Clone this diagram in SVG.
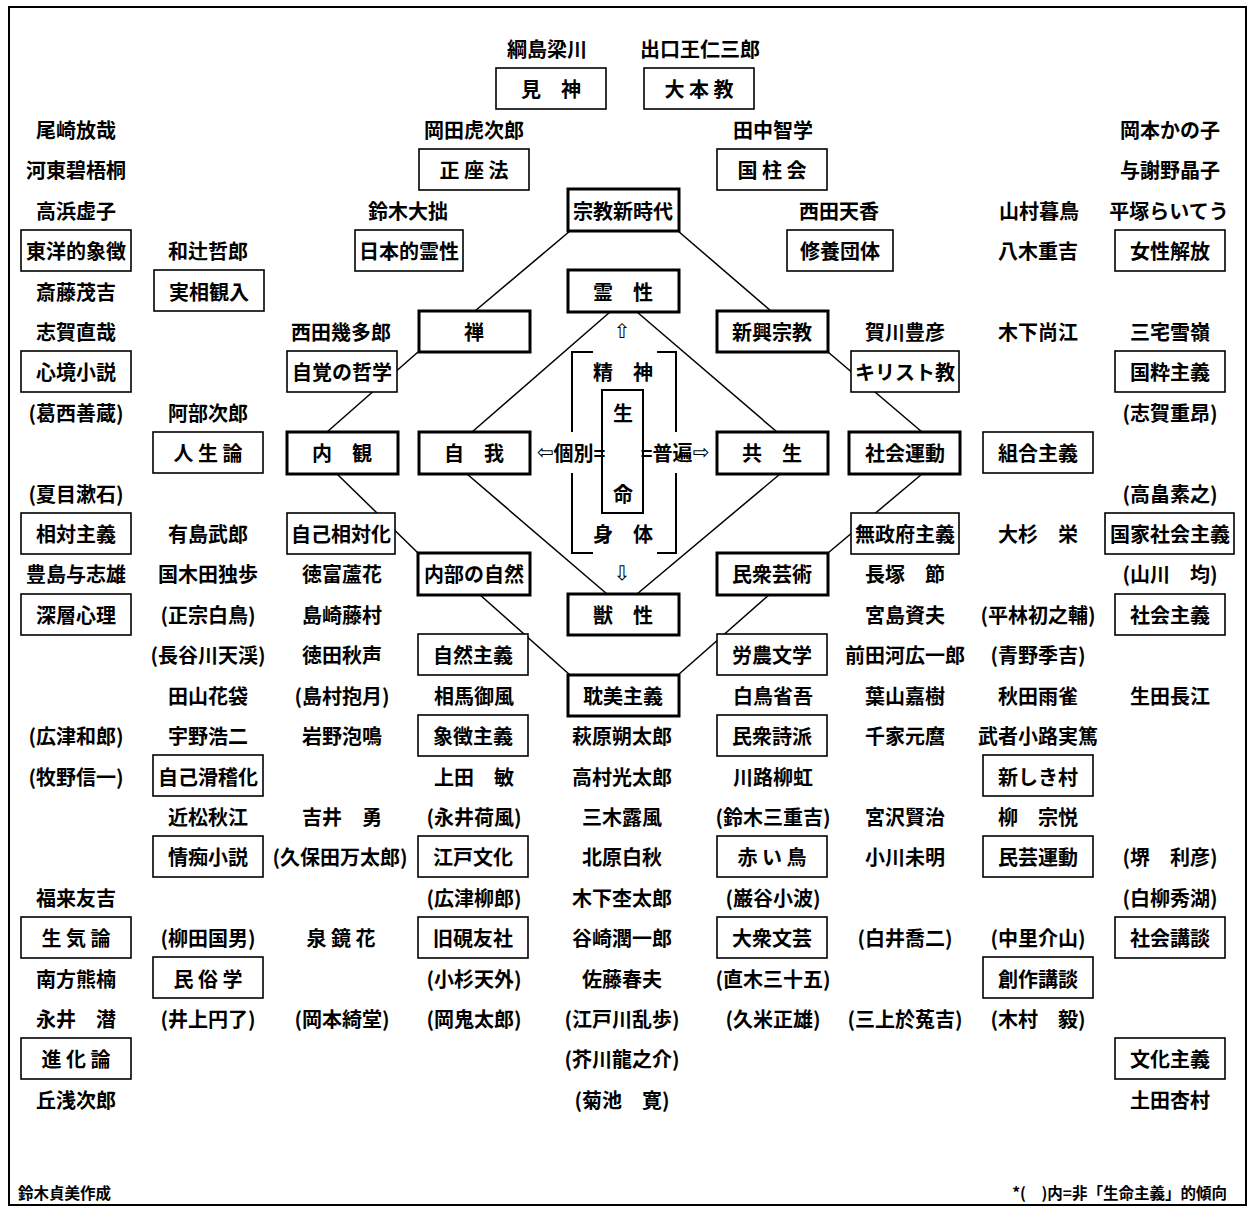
<svg xmlns="http://www.w3.org/2000/svg" width="1252" height="1207" viewBox="0 0 1252 1207">
<style>
text{font-family:"Noto Sans CJK JP","Noto Sans CJK SC","DejaVu Sans",sans-serif;font-size:20px;font-weight:700;fill:#000;text-anchor:middle;dominant-baseline:central}
.b{fill:#fff;stroke:#000;stroke-width:1.6}
.k{fill:#fff;stroke:#000;stroke-width:3}
.c{fill:none;stroke:#000;stroke-width:1.5}
.br{fill:none;stroke:#000;stroke-width:2}
.s{font-size:15.5px}
.ar{font-family:"DejaVu Sans",sans-serif;font-weight:400}
</style>
<rect x="0" y="0" width="1252" height="1207" fill="#fff"/>
<rect x="9" y="7" width="1237" height="1198" fill="none" stroke="#000" stroke-width="2"/>

<g id="connectors">
<line class="c" x1="570" y1="231" x2="475" y2="311"/>
<line class="c" x1="678" y1="231" x2="771" y2="311"/>
<line class="c" x1="610" y1="312" x2="472" y2="432"/>
<line class="c" x1="637" y1="312" x2="777" y2="432"/>
<line class="c" x1="418" y1="352" x2="327" y2="432"/>
<line class="c" x1="828" y1="352" x2="922" y2="432"/>
<line class="c" x1="337" y1="474" x2="418" y2="553"/>
<line class="c" x1="922" y1="474" x2="828" y2="553"/>
<line class="c" x1="467" y1="474" x2="607" y2="594"/>
<line class="c" x1="780" y1="474" x2="637" y2="594"/>
<line class="c" x1="479" y1="594" x2="570" y2="675"/>
<line class="c" x1="770" y1="594" x2="678" y2="675"/>
</g>

<g id="center-bracket">
<path class="br" d="M593,352 H572 V432 M572,473 V553 H593"/>
<path class="br" d="M657,352 H676 V432 M676,473 V553 H657"/>
<rect class="br" x="602" y="390" width="41" height="123"/>
<text x="623" y="371">精　神</text>
<text x="623" y="412">生</text>
<text x="623" y="493">命</text>
<text x="623" y="533">身　体</text>
<text class="ar" x="622" y="331">⇧</text>
<text class="ar" x="622" y="573">⇩</text>
<text x="571" y="452"><tspan class="ar">⇦</tspan>個別=</text>
<text x="675" y="452">=普遍<tspan class="ar">⇨</tspan></text>
</g>

<g id="n-kenshin"><rect class="b" x="496" y="68" width="110" height="41"/><text x="551" y="88">見　神</text></g>
<g id="n-oomoto"><rect class="b" x="644" y="68" width="110" height="41"/><text x="699" y="88">大 本 教</text></g>
<g id="n-seiza"><rect class="b" x="419" y="149" width="110" height="41"/><text x="474" y="169">正 座 法</text></g>
<g id="n-kokuchu"><rect class="b" x="717" y="149" width="110" height="41"/><text x="772" y="169">国 柱 会</text></g>
<g id="n-shukyo"><rect class="k" x="568" y="189" width="111" height="42"/><text x="623" y="210">宗教新時代</text></g>
<g id="n-toyo"><rect class="b" x="21" y="230" width="110" height="41"/><text x="76" y="250">東洋的象徴</text></g>
<g id="n-nihonteki"><rect class="b" x="355" y="230" width="108" height="41"/><text x="409" y="250">日本的霊性</text></g>
<g id="n-shuyo"><rect class="b" x="787" y="230" width="106" height="41"/><text x="840" y="250">修養団体</text></g>
<g id="n-josei"><rect class="b" x="1115" y="230" width="110" height="41"/><text x="1170" y="250">女性解放</text></g>
<g id="n-jisso"><rect class="b" x="154" y="270" width="110" height="41"/><text x="209" y="291">実相観入</text></g>
<g id="n-reisei"><rect class="k" x="568" y="270" width="111" height="42"/><text x="623" y="291">霊　性</text></g>
<g id="n-zen"><rect class="k" x="419" y="311" width="111" height="41"/><text x="474" y="331">禅</text></g>
<g id="n-shinko"><rect class="k" x="717" y="311" width="111" height="41"/><text x="772" y="331">新興宗教</text></g>
<g id="n-shinkyo"><rect class="b" x="21" y="351" width="110" height="41"/><text x="76" y="371">心境小説</text></g>
<g id="n-jikaku"><rect class="b" x="287" y="351" width="110" height="41"/><text x="342" y="371">自覚の哲学</text></g>
<g id="n-kirisuto"><rect class="b" x="851" y="351" width="108" height="41"/><text x="905" y="371">キリスト教</text></g>
<g id="n-kokusui"><rect class="b" x="1115" y="351" width="110" height="41"/><text x="1170" y="371">国粋主義</text></g>
<g id="n-jinsei"><rect class="b" x="153" y="432" width="110" height="41"/><text x="208" y="452">人 生 論</text></g>
<g id="n-naikan"><rect class="k" x="287" y="432" width="111" height="42"/><text x="342" y="452">内　観</text></g>
<g id="n-jiga"><rect class="k" x="419" y="432" width="111" height="42"/><text x="474" y="452">自　我</text></g>
<g id="n-kyosei"><rect class="k" x="717" y="432" width="111" height="42"/><text x="772" y="452">共　生</text></g>
<g id="n-shakaiundo"><rect class="k" x="849" y="432" width="111" height="42"/><text x="905" y="452">社会運動</text></g>
<g id="n-kumiai"><rect class="b" x="983" y="432" width="110" height="41"/><text x="1038" y="452">組合主義</text></g>
<g id="n-sotai"><rect class="b" x="21" y="513" width="110" height="41"/><text x="76" y="533">相対主義</text></g>
<g id="n-jikosotai"><rect class="b" x="287" y="513" width="108" height="41"/><text x="341" y="533">自己相対化</text></g>
<g id="n-museifu"><rect class="b" x="851" y="513" width="108" height="41"/><text x="905" y="533">無政府主義</text></g>
<g id="n-kokkashakai"><rect class="b" x="1105" y="513" width="129" height="41"/><text x="1170" y="533">国家社会主義</text></g>
<g id="n-naibu"><rect class="k" x="418" y="553" width="112" height="42"/><text x="474" y="573">内部の自然</text></g>
<g id="n-minshugei"><rect class="k" x="717" y="553" width="111" height="42"/><text x="772" y="573">民衆芸術</text></g>
<g id="n-shinso"><rect class="b" x="21" y="594" width="110" height="41"/><text x="76" y="614">深層心理</text></g>
<g id="n-jusei"><rect class="k" x="568" y="594" width="111" height="41"/><text x="623" y="614">獣　性</text></g>
<g id="n-shakaishugi"><rect class="b" x="1115" y="594" width="110" height="41"/><text x="1170" y="614">社会主義</text></g>
<g id="n-shizen"><rect class="b" x="418" y="634" width="110" height="41"/><text x="473" y="654">自然主義</text></g>
<g id="n-rono"><rect class="b" x="717" y="634" width="110" height="41"/><text x="772" y="654">労農文学</text></g>
<g id="n-tanbi"><rect class="k" x="568" y="675" width="111" height="41"/><text x="623" y="695">耽美主義</text></g>
<g id="n-shocho"><rect class="b" x="418" y="715" width="110" height="41"/><text x="473" y="735">象徴主義</text></g>
<g id="n-minshushi"><rect class="b" x="717" y="715" width="110" height="41"/><text x="772" y="735">民衆詩派</text></g>
<g id="n-kokkei"><rect class="b" x="153" y="755" width="110" height="41"/><text x="208" y="776">自己滑稽化</text></g>
<g id="n-atarashiki"><rect class="b" x="983" y="755" width="110" height="41"/><text x="1038" y="776">新しき村</text></g>
<g id="n-jochi"><rect class="b" x="153" y="836" width="110" height="41"/><text x="208" y="856">情痴小説</text></g>
<g id="n-edo"><rect class="b" x="418" y="836" width="110" height="41"/><text x="473" y="856">江戸文化</text></g>
<g id="n-akaitori"><rect class="b" x="717" y="836" width="110" height="41"/><text x="772" y="856">赤 い 鳥</text></g>
<g id="n-mingei"><rect class="b" x="983" y="836" width="110" height="41"/><text x="1038" y="856">民芸運動</text></g>
<g id="n-seiki"><rect class="b" x="21" y="917" width="110" height="41"/><text x="76" y="937">生 気 論</text></g>
<g id="n-kenyusha"><rect class="b" x="418" y="917" width="110" height="41"/><text x="473" y="937">旧硯友社</text></g>
<g id="n-taishu"><rect class="b" x="717" y="917" width="110" height="41"/><text x="772" y="937">大衆文芸</text></g>
<g id="n-shakaikodan"><rect class="b" x="1115" y="917" width="110" height="41"/><text x="1170" y="937">社会講談</text></g>
<g id="n-minzoku"><rect class="b" x="153" y="957" width="110" height="41"/><text x="208" y="978">民 俗 学</text></g>
<g id="n-sosakukodan"><rect class="b" x="983" y="957" width="110" height="41"/><text x="1038" y="978">創作講談</text></g>
<g id="n-shinka"><rect class="b" x="21" y="1038" width="110" height="41"/><text x="76" y="1058">進 化 論</text></g>
<g id="n-bunka"><rect class="b" x="1115" y="1038" width="110" height="41"/><text x="1170" y="1058">文化主義</text></g>

<g id="names">
<text x="547" y="48">綱島梁川</text>
<text x="700" y="48">出口王仁三郎</text>
<text x="76" y="129">尾崎放哉</text>
<text x="474" y="129">岡田虎次郎</text>
<text x="773" y="129">田中智学</text>
<text x="1170" y="129">岡本かの子</text>
<text x="76" y="169">河東碧梧桐</text>
<text x="1170" y="169">与謝野晶子</text>
<text x="76" y="210">高浜虚子</text>
<text x="408" y="210">鈴木大拙</text>
<text x="839" y="210">西田天香</text>
<text x="1039" y="210">山村暮鳥</text>
<text x="1169" y="210">平塚らいてう</text>
<text x="208" y="250">和辻哲郎</text>
<text x="1038" y="250">八木重吉</text>
<text x="76" y="291">斎藤茂吉</text>
<text x="76" y="331">志賀直哉</text>
<text x="341" y="331">西田幾多郎</text>
<text x="905" y="331">賀川豊彦</text>
<text x="1038" y="331">木下尚江</text>
<text x="1170" y="331">三宅雪嶺</text>
<text x="76" y="412">(葛西善蔵)</text>
<text x="208" y="412">阿部次郎</text>
<text x="1170" y="412">(志賀重昂)</text>
<text x="76" y="493">(夏目漱石)</text>
<text x="1170" y="493">(高畠素之)</text>
<text x="208" y="533">有島武郎</text>
<text x="1038" y="533">大杉　栄</text>
<text x="76" y="573">豊島与志雄</text>
<text x="208" y="573">国木田独歩</text>
<text x="342" y="573">徳富蘆花</text>
<text x="905" y="573">長塚　節</text>
<text x="1170" y="573">(山川　均)</text>
<text x="208" y="614">(正宗白鳥)</text>
<text x="342" y="614">島崎藤村</text>
<text x="905" y="614">宮島資夫</text>
<text x="1038" y="614">(平林初之輔)</text>
<text x="208" y="654">(長谷川天渓)</text>
<text x="342" y="654">徳田秋声</text>
<text x="905" y="654">前田河広一郎</text>
<text x="1038" y="654">(青野季吉)</text>
<text x="208" y="695">田山花袋</text>
<text x="342" y="695">(島村抱月)</text>
<text x="474" y="695">相馬御風</text>
<text x="773" y="695">白鳥省吾</text>
<text x="905" y="695">葉山嘉樹</text>
<text x="1038" y="695">秋田雨雀</text>
<text x="1170" y="695">生田長江</text>
<text x="76" y="735">(広津和郎)</text>
<text x="208" y="735">宇野浩二</text>
<text x="342" y="735">岩野泡鳴</text>
<text x="622" y="735">萩原朔太郎</text>
<text x="905" y="735">千家元麿</text>
<text x="1038" y="735">武者小路実篤</text>
<text x="76" y="776">(牧野信一)</text>
<text x="474" y="776">上田　敏</text>
<text x="622" y="776">高村光太郎</text>
<text x="773" y="776">川路柳虹</text>
<text x="208" y="816">近松秋江</text>
<text x="342" y="816">吉井　勇</text>
<text x="474" y="816">(永井荷風)</text>
<text x="622" y="816">三木露風</text>
<text x="773" y="816">(鈴木三重吉)</text>
<text x="905" y="816">宮沢賢治</text>
<text x="1038" y="816">柳　宗悦</text>
<text x="340" y="856">(久保田万太郎)</text>
<text x="622" y="856">北原白秋</text>
<text x="905" y="856">小川未明</text>
<text x="1170" y="856">(堺　利彦)</text>
<text x="76" y="897">福来友吉</text>
<text x="474" y="897">(広津柳郎)</text>
<text x="622" y="897">木下杢太郎</text>
<text x="773" y="897">(巌谷小波)</text>
<text x="1170" y="897">(白柳秀湖)</text>
<text x="208" y="937">(柳田国男)</text>
<text x="341" y="937">泉 鏡 花</text>
<text x="622" y="937">谷崎潤一郎</text>
<text x="905" y="937">(白井喬二)</text>
<text x="1038" y="937">(中里介山)</text>
<text x="76" y="978">南方熊楠</text>
<text x="474" y="978">(小杉天外)</text>
<text x="622" y="978">佐藤春夫</text>
<text x="773" y="978">(直木三十五)</text>
<text x="76" y="1018">永井　潜</text>
<text x="208" y="1018">(井上円了)</text>
<text x="342" y="1018">(岡本綺堂)</text>
<text x="474" y="1018">(岡鬼太郎)</text>
<text x="622" y="1018">(江戸川乱歩)</text>
<text x="773" y="1018">(久米正雄)</text>
<text x="905" y="1018">(三上於菟吉)</text>
<text x="1038" y="1018">(木村　毅)</text>
<text x="622" y="1058">(芥川龍之介)</text>
<text x="76" y="1099">丘浅次郎</text>
<text x="622" y="1099">(菊池　寛)</text>
<text x="1170" y="1099">土田杏村</text>
</g>

<g id="footer">
<text class="s" x="18" y="1192" style="text-anchor:start">鈴木貞美作成</text>
<text class="s" x="1227" y="1192" style="text-anchor:end">*(　)内=非「生命主義」的傾向</text>
</g>
</svg>
